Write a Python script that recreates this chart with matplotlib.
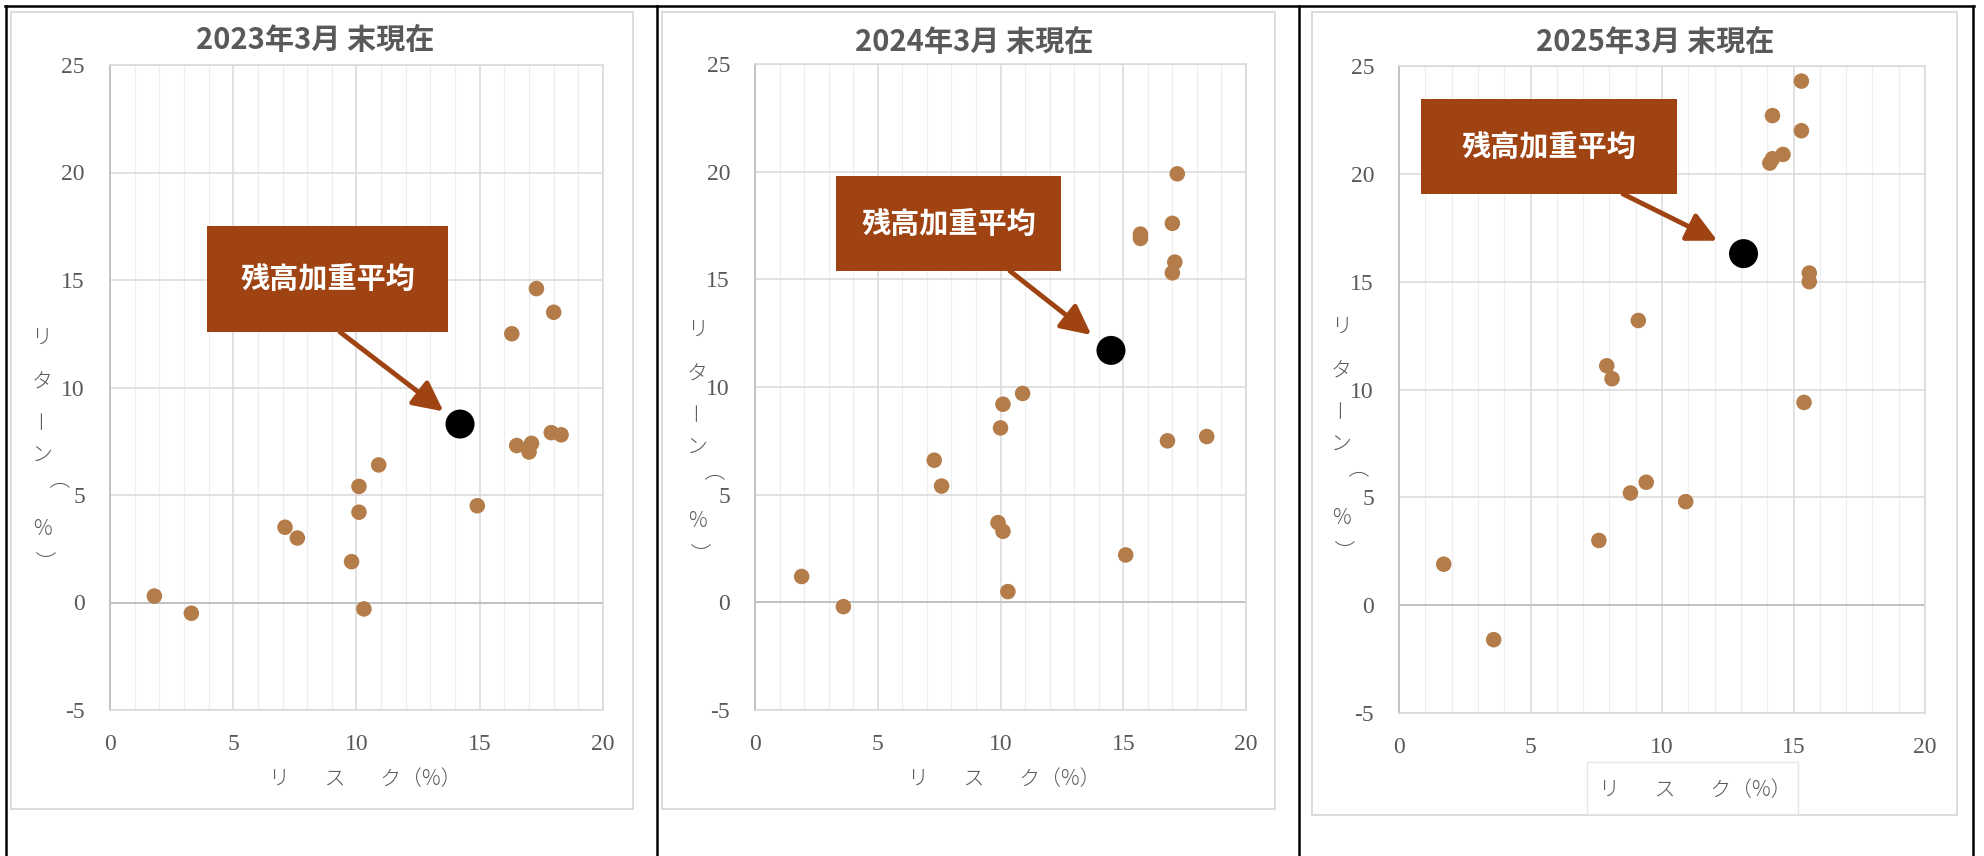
import matplotlib
matplotlib.use("Agg")
import matplotlib.pyplot as plt
from matplotlib.patches import Rectangle
from matplotlib.lines import Line2D
from matplotlib.ticker import MultipleLocator

plt.rcParams['font.family'] = ['Noto Sans CJK JP', 'DejaVu Sans']
plt.rcParams['axes.unicode_minus'] = False

# データ（リスク・リターン, %）
titles = ["2023年3月 末現在", "2024年3月 末現在", "2025年3月 末現在"]

risk_2023 = [1.8, 3.3, 7.1, 7.6, 9.8, 10.1, 10.1, 10.3, 10.9, 14.9, 16.3, 16.5, 17.1, 17.0, 17.3, 18.0, 17.9, 18.3]
ret_2023 = [0.3, -0.5, 3.5, 3.0, 1.9, 4.2, 5.4, -0.3, 6.4, 4.5, 12.5, 7.3, 7.4, 7.0, 14.6, 13.5, 7.9, 7.8]
avg_2023 = (14.2, 8.3)

risk_2024 = [1.9, 3.6, 7.3, 7.6, 9.9, 10.1, 10.0, 10.1, 10.9, 10.3, 15.1, 15.7, 15.7, 17.0, 17.2, 17.1, 17.0, 16.8, 18.4]
ret_2024 = [1.2, -0.2, 6.6, 5.4, 3.7, 3.3, 8.1, 9.2, 9.7, 0.5, 2.2, 17.1, 16.9, 17.6, 19.9, 15.8, 15.3, 7.5, 7.7]
avg_2024 = (14.5, 11.7)

risk_2025 = [1.7, 3.6, 7.6, 7.9, 8.1, 9.1, 8.8, 9.4, 10.9, 15.3, 14.2, 15.3, 14.1, 14.2, 14.6, 15.6, 15.6, 15.4]
ret_2025 = [1.9, -1.6, 3.0, 11.1, 10.5, 13.2, 5.2, 5.7, 4.8, 24.3, 22.7, 22.0, 20.5, 20.7, 20.9, 15.4, 15.0, 9.4]
avg_2025 = (13.1, 16.3)

callout_text = "残高加重平均"
xlabel = "リ　   ス　   ク（%）"
ylabel_chars = ["リ", "タ", "ー", "ン", "（", "%", "）"]

risks = [risk_2023, risk_2024, risk_2025]
rets = [ret_2023, ret_2024, ret_2025]
avgs = [avg_2023, avg_2024, avg_2025]

# レイアウト（ピクセル）
W, H = 1984, 856
fig = plt.figure(figsize=(W / 100, H / 100), dpi=100)


def fx(px):
    return px / W


def fy(py):
    return 1 - py / H


plot_boxes = [(110, 65, 603, 710), (755, 64, 1246, 710), (1399, 66, 1925, 713)]
chart_boxes = [(11, 12, 633, 809), (662, 12, 1275, 809), (1312, 12, 1957, 815)]
title_pos = [(315, 40), (974, 42), (1655, 42)]
ylabel_pos = [(42, 339), (697, 331), (1341, 328)]  # 1文字目の中心
ylabel_step = [0, 44, 80, 117, 152, 190, 222]
ylabel_rot = [0, 0, 90, 0, -90, 0, -90]
xlabel_pos = [(365, 779), (1004, 779), (1695, 790)]
callout_boxes = [(207, 226, 448, 332), (836, 176, 1061, 271), (1421, 99, 1677, 194)]
arrow_start = [(340, 332), (1010, 271), (1623, 194)]
arrow_shrink = [15, 18, 21]

grey_txt = '#595959'
dot_color = '#b47c48'
box_color = '#9f4313'

for i in range(3):
    cx0, cy0, cx1, cy1 = chart_boxes[i]
    fig.add_artist(Rectangle((fx(cx0), fy(cy1)), (cx1 - cx0) / W, (cy1 - cy0) / H,
                             transform=fig.transFigure, fill=False,
                             edgecolor='#d9d9d9', lw=1.3))

    x0, y0, x1, y1 = plot_boxes[i]
    ax = fig.add_axes([fx(x0), fy(y1), (x1 - x0) / W, (y1 - y0) / H])
    ax.set_xlim(0, 20)
    ax.set_ylim(-5, 25)
    ax.xaxis.set_major_locator(MultipleLocator(5))
    ax.xaxis.set_minor_locator(MultipleLocator(1))
    ax.yaxis.set_major_locator(MultipleLocator(5))
    ax.grid(True, which='minor', axis='x', color='#eeeeee', lw=0.9)
    ax.grid(True, which='major', axis='both', color='#d9d9d9', lw=1.1)
    ax.set_axisbelow(True)
    for side in ['top', 'right', 'bottom']:
        ax.spines[side].set_color('#d9d9d9')
        ax.spines[side].set_linewidth(1.1)
    ax.spines['left'].set_color('#bfbfbf')
    ax.spines['left'].set_linewidth(1.3)
    ax.axhline(0, color='#bfbfbf', lw=1.3, zorder=1)
    ax.tick_params(which='both', length=0, labelsize=17, labelcolor=grey_txt,
                   labelfontfamily='Liberation Serif')
    ax.tick_params(axis='y', pad=18)
    ax.tick_params(axis='x', pad=17)

    ax.scatter(risks[i], rets[i], s=125, color=dot_color, edgecolors='none', zorder=3)
    ax.scatter([avgs[i][0]], [avgs[i][1]], s=436, color='black', edgecolors='none', zorder=4)

    fig.text(fx(title_pos[i][0]), fy(title_pos[i][1]), titles[i], ha='center', va='center',
             fontsize=21, fontweight='bold', color=grey_txt)

    # 縦書きのy軸ラベル
    lx, ly = ylabel_pos[i]
    for ch, dy, rot in zip(ylabel_chars, ylabel_step, ylabel_rot):
        fig.text(fx(lx), fy(ly + dy), ch, ha='center', va='center', rotation=rot,
                 fontsize=15, color=grey_txt, fontweight='light')

    fig.text(fx(xlabel_pos[i][0]), fy(xlabel_pos[i][1]), xlabel, ha='center', va='center',
             fontsize=15, color=grey_txt, fontweight='light')

    bx0, by0, bx1, by1 = callout_boxes[i]
    fig.add_artist(Rectangle((fx(bx0), fy(by1)), (bx1 - bx0) / W, (by1 - by0) / H,
                             transform=fig.transFigure, facecolor=box_color,
                             edgecolor='none', zorder=5))
    fig.text(fx((bx0 + bx1) / 2), fy((by0 + by1) / 2), callout_text, ha='center', va='center',
             fontsize=21, fontweight='bold', color='white', zorder=6)
    ax.annotate('', xy=avgs[i], xycoords='data',
                xytext=(fx(arrow_start[i][0]), fy(arrow_start[i][1])),
                textcoords='figure fraction', annotation_clip=False,
                arrowprops=dict(arrowstyle='-|>,head_length=0.9,head_width=0.45',
                                mutation_scale=20, color=box_color, lw=3.5,
                                shrinkA=0, shrinkB=arrow_shrink[i]), zorder=5)

# 3つ目のx軸ラベルの枠
fig.add_artist(Rectangle((fx(1587), fy(814)), (1798 - 1587) / W, (814 - 762) / H,
                         transform=fig.transFigure, fill=False,
                         edgecolor='#e6e6e6', lw=1.0))

# 外枠の黒線
for x in [6, 657, 1299, 1973]:
    fig.add_artist(Line2D([fx(x), fx(x)], [fy(6), 0], transform=fig.transFigure,
                          color='black', lw=1.8))
fig.add_artist(Line2D([fx(5), fx(1974)], [fy(6), fy(6)], transform=fig.transFigure,
                      color='black', lw=1.8))

fig.savefig("out.png", dpi=100, facecolor='white')
